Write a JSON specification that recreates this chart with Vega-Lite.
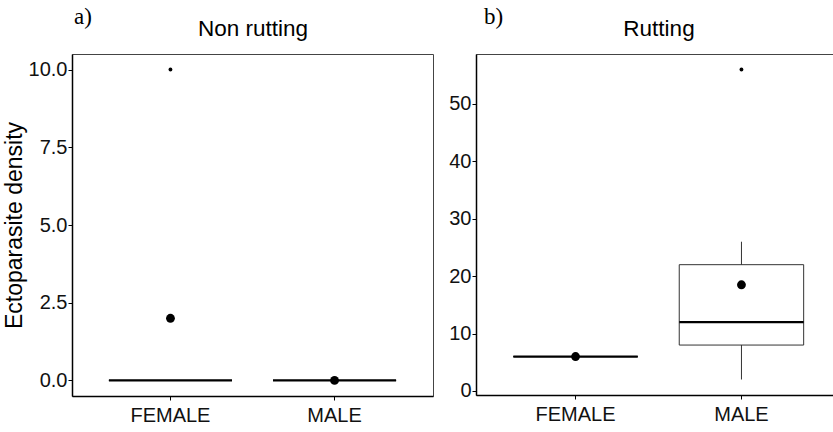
{
  "$schema": "https://vega.github.io/schema/vega-lite/v6.json",
  "padding": {"left": 2, "top": 5, "right": 0, "bottom": 0},
  "background": "white",
  "datasets": {
    "stats": [
      {"panel": "a", "sex": "FEMALE", "lower": 0, "q1": 0, "median": 0, "q3": 0, "upper": 0, "mean": 2},
      {"panel": "a", "sex": "MALE", "lower": 0, "q1": 0, "median": 0, "q3": 0, "upper": 0, "mean": 0},
      {"panel": "b", "sex": "FEMALE", "lower": 6, "q1": 6, "median": 6, "q3": 6, "upper": 6, "mean": 6},
      {"panel": "b", "sex": "MALE", "lower": 2, "q1": 8, "median": 12, "q3": 22, "upper": 26, "mean": 18.5}
    ],
    "outliers": [
      {"panel": "a", "sex": "FEMALE", "value": 10},
      {"panel": "b", "sex": "MALE", "value": 56}
    ]
  },
  "hconcat": [
    {
      "width": 361,
      "height": 342,
      "title": {"text": "a)", "anchor": "start", "frame": "group", "dx": 2, "font": "Liberation Serif", "fontSize": 23, "fontWeight": "normal", "offset": -12, "color": "#000"},
      "resolve": {"axis": {"x": "independent"}},
      "layer": [
        {
          "data": {"name": "stats"},
          "transform": [{"filter": "datum.panel === 'a'"}],
          "mark": {"type": "rule", "stroke": "#333", "strokeWidth": 1},
          "encoding": {
            "x": {"field": "sex", "type": "nominal", "scale": {"paddingInner": 0.25, "paddingOuter": 0.225}, "axis": {"title": null, "labelAngle": 0}},
            "y": {"field": "lower", "type": "quantitative", "scale": {"domain": [-0.5, 10.5], "nice": false, "zero": false}, "axis": {"title": "Ectoparasite density", "values": [0, 2.5, 5, 7.5, 10], "format": ".1f", "grid": false}},
            "y2": {"field": "upper"}
          }
        },
        {
          "data": {"name": "stats"},
          "transform": [{"filter": "datum.panel === 'a'"}],
          "mark": {"type": "bar", "fill": "white", "stroke": "#333", "strokeWidth": 1},
          "encoding": {
            "x": {"field": "sex", "type": "nominal", "axis": {"orient": "top", "title": "Non rutting", "labels": false, "ticks": false, "domain": false, "titleFontSize": 22.5, "titlePadding": 14, "titleColor": "#000", "titleFontWeight": "normal"}},
            "y": {"field": "q1", "type": "quantitative"},
            "y2": {"field": "q3"}
          }
        },
        {
          "data": {"name": "stats"},
          "transform": [{"filter": "datum.panel === 'a'"}],
          "mark": {"type": "tick", "color": "#000", "thickness": 2.2, "opacity": 1},
          "encoding": {
            "x": {"field": "sex", "type": "nominal", "axis": null},
            "y": {"field": "median", "type": "quantitative"}
          }
        },
        {
          "data": {"name": "outliers"},
          "transform": [{"filter": "datum.panel === 'a'"}],
          "mark": {"type": "circle", "color": "#000", "size": 15, "opacity": 1},
          "encoding": {
            "x": {"field": "sex", "type": "nominal", "axis": null},
            "y": {"field": "value", "type": "quantitative"}
          }
        },
        {
          "data": {"name": "stats"},
          "transform": [{"filter": "datum.panel === 'a'"}],
          "mark": {"type": "circle", "color": "#000", "size": 78, "opacity": 1},
          "encoding": {
            "x": {"field": "sex", "type": "nominal", "axis": null},
            "y": {"field": "mean", "type": "quantitative"}
          }
        }
      ]
    },
    {
      "width": 365,
      "height": 341,
      "title": {"text": "b)", "anchor": "start", "frame": "group", "dx": 8, "font": "Liberation Serif", "fontSize": 23, "fontWeight": "normal", "offset": -12, "color": "#000"},
      "resolve": {"axis": {"x": "independent"}},
      "layer": [
        {
          "data": {"name": "stats"},
          "transform": [{"filter": "datum.panel === 'b'"}],
          "mark": {"type": "rule", "stroke": "#333", "strokeWidth": 1},
          "encoding": {
            "x": {"field": "sex", "type": "nominal", "scale": {"paddingInner": 0.25, "paddingOuter": 0.225}, "axis": {"title": null, "labelAngle": 0}},
            "y": {"field": "lower", "type": "quantitative", "scale": {"domain": [-0.7, 58.7], "nice": false, "zero": false}, "axis": {"title": null, "values": [0, 10, 20, 30, 40, 50], "grid": false}},
            "y2": {"field": "upper"}
          }
        },
        {
          "data": {"name": "stats"},
          "transform": [{"filter": "datum.panel === 'b'"}],
          "mark": {"type": "bar", "fill": "white", "stroke": "#333", "strokeWidth": 1},
          "encoding": {
            "x": {"field": "sex", "type": "nominal", "axis": {"orient": "top", "title": "Rutting", "labels": false, "ticks": false, "domain": false, "titleFontSize": 22.5, "titlePadding": 14, "titleColor": "#000", "titleFontWeight": "normal"}},
            "y": {"field": "q1", "type": "quantitative"},
            "y2": {"field": "q3"}
          }
        },
        {
          "data": {"name": "stats"},
          "transform": [{"filter": "datum.panel === 'b'"}],
          "mark": {"type": "tick", "color": "#000", "thickness": 2.2, "opacity": 1},
          "encoding": {
            "x": {"field": "sex", "type": "nominal", "axis": null},
            "y": {"field": "median", "type": "quantitative"}
          }
        },
        {
          "data": {"name": "outliers"},
          "transform": [{"filter": "datum.panel === 'b'"}],
          "mark": {"type": "circle", "color": "#000", "size": 15, "opacity": 1},
          "encoding": {
            "x": {"field": "sex", "type": "nominal", "axis": null},
            "y": {"field": "value", "type": "quantitative"}
          }
        },
        {
          "data": {"name": "stats"},
          "transform": [{"filter": "datum.panel === 'b'"}],
          "mark": {"type": "circle", "color": "#000", "size": 78, "opacity": 1},
          "encoding": {
            "x": {"field": "sex", "type": "nominal", "axis": null},
            "y": {"field": "mean", "type": "quantitative"}
          }
        }
      ]
    }
  ],
  "spacing": 14,
  "config": {
    "font": "Liberation Sans",
    "view": {"stroke": "#444", "strokeWidth": 1},
    "axis": {
      "domainColor": "#000",
      "domainWidth": 1.5,
      "tickColor": "#000",
      "tickSize": 4,
      "tickWidth": 1,
      "labelFontSize": 20,
      "labelColor": "#111",
      "labelPadding": 1,
      "titleFontSize": 23,
      "titleFontWeight": "normal",
      "titleColor": "#000",
      "titlePadding": 2
    },
    "axisX": {"labelFontSize": 20, "labelPadding": 5}
  }
}
